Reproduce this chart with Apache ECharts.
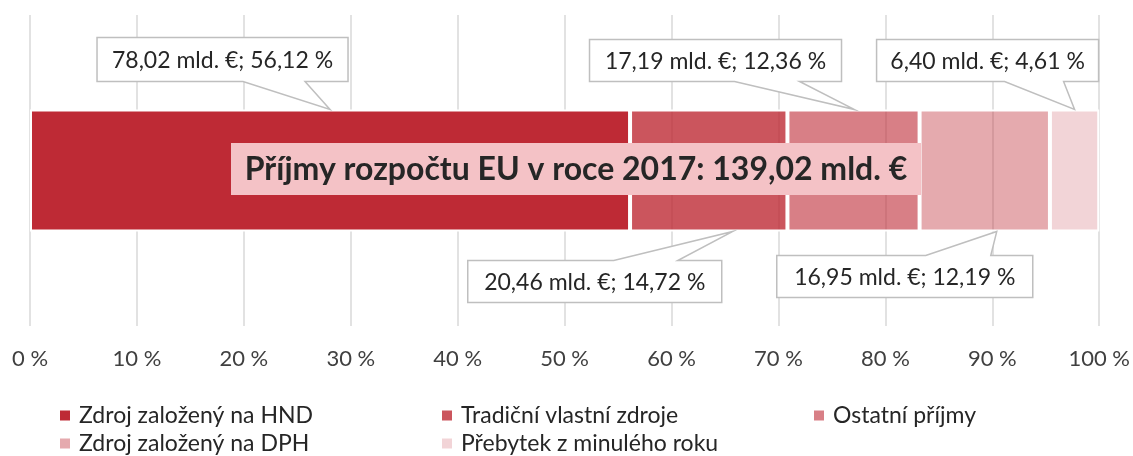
<!DOCTYPE html>
<html>
<head>
<meta charset="utf-8">
<script src="https://cdn.jsdelivr.net/npm/echarts@6/dist/echarts.min.js"></script>
<style>
    html, body { margin: 0; padding: 0; background: #fff; }
    #chart { width: 1133px; height: 456px; }
</style>
</head>
<body>
<div id="chart"></div>
<script>
// data
var categories = ['2017'];
var seriesNames = ['Zdroj založený na HND', 'Tradiční vlastní zdroje', 'Ostatní příjmy', 'Zdroj založený na DPH', 'Přebytek z minulého roku'];
var shares = [56.12, 14.72, 12.36, 12.19, 4.61];      // %
var amounts = [78.02, 20.46, 17.19, 16.95, 6.40];     // mld. €
var totalText = 'Příjmy rozpočtu EU v roce 2017: 139,02 mld. €';
var xTicks = [0, 100, 10];                            // min, max, interval

var FONT = 'Lato, "Noto Sans", sans-serif';
var alphas = [1, 0.8, 0.6, 0.4, 0.2];

// callout placement (relative to the tip on the bar edge)
var callouts = [
    {side: 'top',    tipDx: 0,  left: -233, right: 18, top: -72, bottom: -28, w1: -87,  w2: -25},
    {side: 'bottom', tipDx: 24, left: -265, right: -11, top: 29, bottom: 71,  w1: -119, w2: -55},
    {side: 'top',    tipDx: 1,  left: -265, right: -13, top: -70, bottom: -28, w1: -120, w2: -55},
    {side: 'bottom', tipDx: 12, left: -220, right: 36, top: 24, bottom: 66,   w1: -71,  w2: -6},
    {side: 'top',    tipDx: 0,  left: -198, right: 24, top: -70, bottom: -28, w1: -70,  w2: -11}
];

// legend slots: [left, top]
var legendPos = [[58, 404], [440, 404], [812, 404], [58, 432], [440, 432]];

function fmt(v) {
    return v.toFixed(2).replace('.', ',');
}

var centers = [];
var acc = 0;
for (var i = 0; i < shares.length; i++) {
    centers.push([acc + shares[i] / 2, 0]);
    acc += shares[i];
}

var series = [];
for (var i = 0; i < seriesNames.length; i++) {
    series.push({
        name: seriesNames[i],
        type: 'bar',
        stack: 'total',
        barWidth: 122,
        data: [shares[i]],
        itemStyle: {
            color: 'rgba(190,42,53,' + alphas[i] + ')',
            borderColor: '#fff',
            borderWidth: 2
        }
    });
}

series.push({
    name: 'callouts',
    type: 'custom',
    silent: true,
    z: 5,
    data: centers,
    renderItem: function (params, api) {
        var k = params.dataIndex;
        var c = api.coord([api.value(0), api.value(1)]);
        var L = callouts[k];
        var tipX = c[0] + L.tipDx;
        var tipY = L.side === 'top' ? c[1] - 61 : c[1] + 61;
        var x0 = tipX + L.left, x1 = tipX + L.right;
        var y0 = tipY + L.top, y1 = tipY + L.bottom;
        var pts;
        if (L.side === 'top') {
            pts = [[x0, y0], [x1, y0], [x1, y1], [tipX + L.w2, y1], [tipX, tipY], [tipX + L.w1, y1], [x0, y1]];
        } else {
            pts = [[x0, y0], [tipX + L.w1, y0], [tipX, tipY], [tipX + L.w2, y0], [x1, y0], [x1, y1], [x0, y1]];
        }
        return {
            type: 'group',
            children: [{
                type: 'polygon',
                shape: {points: pts},
                style: {fill: '#fff', stroke: '#bfbfbf', lineWidth: 1.5}
            }, {
                type: 'text',
                style: {
                    x: (x0 + x1) / 2,
                    y: (y0 + y1) / 2 + 1,
                    text: fmt(amounts[k]) + ' mld. €; ' + fmt(shares[k]) + ' %',
                    align: 'center',
                    verticalAlign: 'middle',
                    font: '23px ' + FONT,
                    fill: '#262626'
                }
            }]
        };
    }
});

var legends = [];
for (var i = 0; i < seriesNames.length; i++) {
    legends.push({
        data: [seriesNames[i]],
        left: legendPos[i][0],
        top: legendPos[i][1],
        padding: 0,
        icon: 'rect',
        itemWidth: 12,
        itemHeight: 12,
        textStyle: {
            fontFamily: FONT,
            fontSize: 23,
            color: '#262626',
            padding: [0, 0, 0, 3]
        }
    });
}

var option = {
    animation: false,
    textStyle: {fontFamily: FONT},
    grid: {left: 30, right: 33, top: 15, bottom: 130},
    xAxis: {
        type: 'value',
        min: xTicks[0],
        max: xTicks[1],
        interval: xTicks[2],
        axisLine: {show: false},
        axisTick: {show: false},
        splitLine: {lineStyle: {color: '#d9d9d9', width: 1.5}},
        axisLabel: {
            formatter: '{value} %',
            fontSize: 22,
            color: '#404040',
            margin: 22,
            fontFamily: FONT
        }
    },
    yAxis: {
        type: 'category',
        data: categories,
        show: false
    },
    legend: legends,
    graphic: [{
        type: 'rect',
        z: 100,
        zlevel: 1,
        shape: {x: 231, y: 143, width: 690, height: 52},
        style: {fill: '#f4c2c6'}
    }, {
        type: 'text',
        z: 101,
        zlevel: 1,
        style: {
            x: 576,
            y: 170,
            text: totalText,
            align: 'center',
            verticalAlign: 'middle',
            font: 'bold 32px ' + FONT,
            fill: '#262626'
        }
    }],
    series: series
};

var chart = echarts.init(document.getElementById('chart'));
chart.setOption(option);
window.addEventListener('resize', chart.resize);
</script>
</body>
</html>
